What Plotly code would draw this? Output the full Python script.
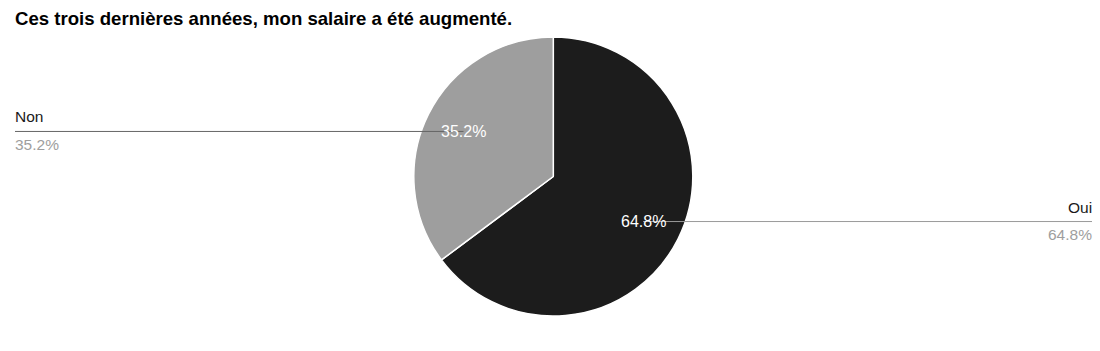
import numpy as np
import plotly.graph_objects as go

title = "Ces trois dernières années, mon salaire a été augmenté."
labels = ["Oui", "Non"]
values = [64.8, 35.2]
colors = ["#1c1c1c", "#9e9e9e"]
leader_colors = ["#9a9a9a", "#666666"]

W, H = 1100, 351
cx, cy, r = 553.3, 176.5, 139.5
left_x, right_x = 15.0, 1092.0
FONT = "Liberation Sans, Arial, sans-serif"


def px(x):
    return x / W


def py(y):
    return 1 - y / H


fig = go.Figure(
    go.Pie(
        labels=labels,
        values=values,
        sort=False,
        direction="clockwise",
        rotation=0,
        marker=dict(colors=colors, line=dict(color="white", width=1.5)),
        textinfo="none",
        hoverinfo="label+percent",
        showlegend=False,
        domain=dict(x=[px(cx - r), px(cx + r)], y=[py(cy + r), py(cy - r)]),
    )
)

total = float(np.sum(values))
fracs = np.array(values) / total
starts = np.concatenate([[0.0], np.cumsum(fracs)[:-1]])
mids = (starts + fracs / 2) * 2 * np.pi

annotations = [
    dict(
        text="<b>" + title + "</b>", x=px(13), y=py(18), xref="paper", yref="paper",
        xanchor="left", yanchor="middle", showarrow=False,
        font=dict(family=FONT, size=18.6, color="#000000"),
    )
]
shapes = []
for lab, frac, ang, lc in zip(labels, fracs, mids, leader_colors):
    pct = f"{frac * 100:.1f}%"
    lx = cx + 0.72 * r * np.sin(ang)
    ly = cy - 0.72 * r * np.cos(ang)
    left = np.sin(ang) < 0
    ex = left_x if left else right_x
    tx = ex - 2 if left else ex + 2
    shapes.append(dict(type="line", xref="paper", yref="paper",
                       x0=px(lx), y0=py(ly), x1=px(ex), y1=py(ly),
                       line=dict(color=lc, width=1), layer="above"))
    annotations.append(dict(text=pct, x=px(lx), y=py(ly), xref="paper", yref="paper",
                            xanchor="center", yanchor="middle", showarrow=False,
                            font=dict(family=FONT, size=16, color="#ffffff")))
    anchor = "left" if left else "right"
    annotations.append(dict(text=lab, x=px(tx), y=py(ly - 14.5), xref="paper", yref="paper",
                            xanchor=anchor, yanchor="middle", showarrow=False,
                            font=dict(family=FONT, size=15.5, color="#1a1a1a")))
    annotations.append(dict(text=pct, x=px(tx), y=py(ly + 13), xref="paper", yref="paper",
                            xanchor=anchor, yanchor="middle", showarrow=False,
                            font=dict(family=FONT, size=15.5, color="#9e9e9e")))

fig.update_layout(
    width=W, height=H,
    margin=dict(l=0, r=0, t=0, b=0),
    paper_bgcolor="white", plot_bgcolor="white",
    annotations=annotations, shapes=shapes,
)

fig.write_html("out.html")
